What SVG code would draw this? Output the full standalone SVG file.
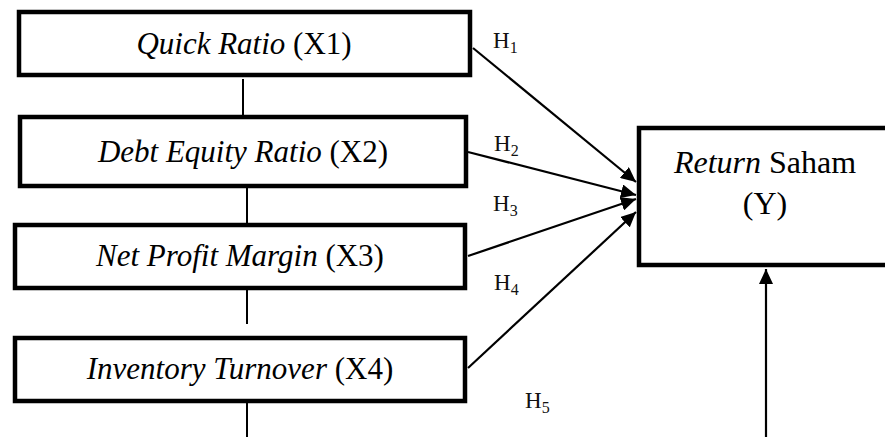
<svg xmlns="http://www.w3.org/2000/svg" width="885" height="437" viewBox="0 0 885 437">
  <style>
    .box { fill: #ffffff; stroke: #000000; stroke-width: 4.5; }
    .lbl { font-family: "Liberation Serif", "Times New Roman", serif; font-size: 31px; fill: #000000; text-anchor: middle; }
    .it { font-style: italic; }
    .h { font-family: "Liberation Serif", "Times New Roman", serif; font-size: 23px; fill: #111111; }
    .sub { font-size: 16px; }
    .line { stroke: #000000; stroke-width: 2; fill: none; }
    .arrow { stroke: #000000; stroke-width: 2.2; fill: none; marker-end: url(#ah); }
  </style>
  <defs>
    <marker id="ah" markerUnits="userSpaceOnUse" markerWidth="16" markerHeight="14" refX="15" refY="7" orient="auto">
      <path d="M0,0 L15,7 L0,14 Z" fill="#000000"/>
    </marker>
  </defs>
  <rect width="885" height="437" fill="#ffffff"/>

  <g id="connectors">
    <line class="line" x1="243" y1="79" x2="243" y2="115"/>
    <line class="line" x1="247" y1="188" x2="247" y2="223"/>
    <line class="line" x1="247" y1="290" x2="247" y2="324"/>
    <line class="line" x1="247" y1="403" x2="247" y2="437"/>
    <line class="arrow" x1="473" y1="48" x2="636" y2="182"/>
    <line class="arrow" x1="468" y1="152" x2="636" y2="195"/>
    <line class="arrow" x1="468" y1="256" x2="636" y2="199"/>
    <line class="arrow" x1="468" y1="368" x2="636" y2="212"/>
    <line class="arrow" x1="766" y1="437" x2="766" y2="269"/>
  </g>

  <g id="x1">
    <rect class="box" x="19" y="12" width="451" height="63"/>
    <text class="lbl" x="244" y="54"><tspan class="it">Quick Ratio</tspan> (X1)</text>
  </g>
  <g id="x2">
    <rect class="box" x="20" y="117" width="446" height="69"/>
    <text class="lbl" x="243" y="162"><tspan class="it">Debt Equity Ratio</tspan> (X2)</text>
  </g>
  <g id="x3">
    <rect class="box" x="15" y="225" width="450" height="63"/>
    <text class="lbl" x="240" y="266"><tspan class="it">Net Profit Margin</tspan> (X3)</text>
  </g>
  <g id="x4">
    <rect class="box" x="15" y="338" width="450" height="63"/>
    <text class="lbl" x="240" y="379"><tspan class="it">Inventory Turnover</tspan> (X4)</text>
  </g>
  <g id="y">
    <rect class="box" x="639" y="128" width="260" height="137"/>
    <text class="lbl" x="765" y="173" style="font-size:32px"><tspan class="it">Return</tspan> Saham</text>
    <text class="lbl" x="765" y="214" style="font-size:32px">(Y)</text>
  </g>

  <g id="labels">
    <text class="h" x="493" y="48">H<tspan class="sub" dy="5">1</tspan></text>
    <text class="h" x="494" y="151">H<tspan class="sub" dy="5">2</tspan></text>
    <text class="h" x="493" y="211">H<tspan class="sub" dy="5">3</tspan></text>
    <text class="h" x="494" y="290">H<tspan class="sub" dy="5">4</tspan></text>
    <text class="h" x="525" y="408">H<tspan class="sub" dy="5">5</tspan></text>
  </g>
</svg>
